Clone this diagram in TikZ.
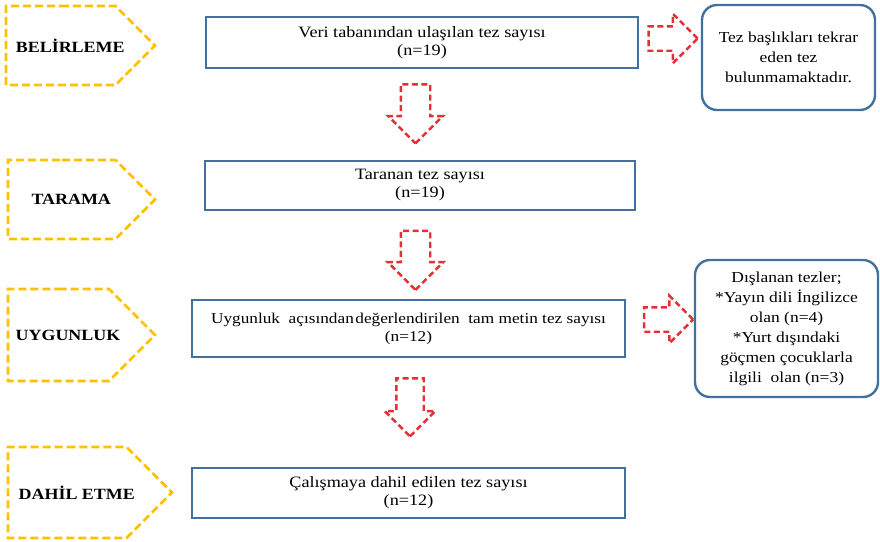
\documentclass[tikz,border=0pt]{standalone}
\usepackage{fontspec}
\setmainfont[FakeStretch=1.15]{Liberation Serif}
\usepackage{tikz}
\usetikzlibrary{positioning,shapes.symbols,shapes.arrows}
\definecolor{tagorange}{HTML}{FFC000}
\definecolor{arrowred}{HTML}{E62E36}
\definecolor{boxblue}{HTML}{41719C}

\begin{document}
\begin{tikzpicture}[x=1pt,y=-1pt, every node/.style={font=\fontsize{15.8}{18}\selectfont},
  tag/.style={draw=tagorange,line width=2.8pt,dash pattern=on 8pt off 4pt,signal,signal to=east,signal pointer angle=90,inner sep=0pt},
  tagtext/.style={font=\fontsize{15.6}{18}\selectfont\bfseries,xshift=9.5pt},
  stage/.style={draw=boxblue,line width=2.4pt,align=center,inner sep=0pt},
  note/.style={draw=boxblue,line width=2.4pt,rounded corners=15pt,align=center,inner sep=0pt,font=\fontsize{15.2}{20}\selectfont},
  downarr/.style={draw=arrowred,line width=2.4pt,dash pattern=on 6pt off 3.5pt,single arrow,inner xsep=0pt,rotate=-90},
  sidearr/.style={draw=arrowred,line width=2.4pt,dash pattern=on 6pt off 3.5pt,single arrow,inner xsep=0pt}]
\useasboundingbox (0,0) rectangle (880,541);
% left phase tags
\node[tag,minimum width=149pt,minimum height=79pt,label={[tagtext]center:BELİRLEME}] (bel) at (60.75,45.5) {};
\node[tag,minimum width=147pt,minimum height=79pt,label={[tagtext]center:TARAMA}] (tar) at (61.75,199.5) {};
\node[tag,minimum width=147pt,minimum height=92pt,label={[tagtext]center:UYGUNLUK}] (uyg) at (58.5,335) {};
\node[tag,minimum width=164pt,minimum height=91pt,label={[tagtext]center:DAHİL ETME}] (dah) at (67.25,492.5) {};
% main boxes
\node[stage,minimum width=432pt,minimum height=51pt] (found) at (422,42.5) {Veri tabanından ulaşılan tez sayısı\\(n=19)};
\node[stage,minimum width=430pt,minimum height=49pt] (scan) at (420,185.5) {Taranan tez sayısı\\(n=19)};
\node[stage,minimum width=433pt,minimum height=57pt,font=\fontsize{15}{18}\selectfont] (elig) at (408.5,328.5) {Uygunluk\ \ açısından\hspace{1.5pt}değerlendirilen\ \ tam metin tez sayısı\\(n=12)};
\node[stage,minimum width=433pt,minimum height=50pt] (incl) at (408.5,493) {Çalışmaya dahil edilen tez sayısı\\(n=12)};
% notes
\node[note,minimum width=173pt,minimum height=105pt] (dup) at (788.5,57.5) {Tez başlıkları tekrar\\eden tez\\bulunmamaktadır.};
\node[note,minimum width=183pt,minimum height=137pt] (excl) at (786.5,328.5) {Dışlanan tezler;\\*Yayın dili İngilizce\\olan (n=4)\\*Yurt dışındaki\\göçmen çocuklarla\\ilgili\ \ olan (n=3)};
% block arrows
\node[downarr,minimum height=59pt,inner ysep=13.5pt,single arrow head extend=12.5pt] (a1) at (415.5,106.5) {};
\node[downarr,minimum height=59pt,inner ysep=13.5pt,single arrow head extend=13pt] (a2) at (415.5,253) {};
\node[downarr,minimum height=58pt,inner ysep=12.5pt,single arrow head extend=11.5pt] (a3) at (410,400.5) {};
\node[sidearr,minimum height=49pt,inner ysep=11pt,single arrow head extend=12.5pt] (s1) at (667,38.5) {};
\node[sidearr,minimum height=49pt,inner ysep=11pt,single arrow head extend=11.5pt] (s2) at (662.5,319.5) {};
\end{tikzpicture}
\end{document}
